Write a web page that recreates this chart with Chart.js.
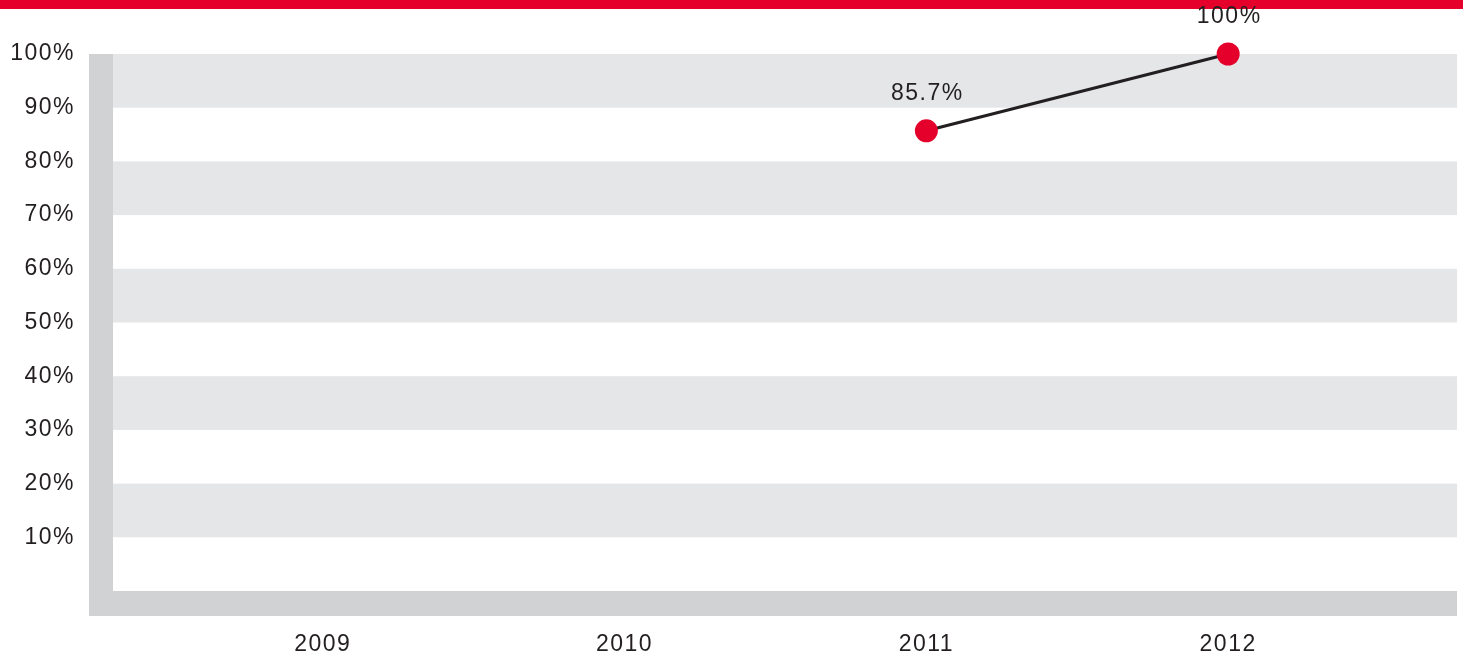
<!DOCTYPE html>
<html>
<head>
<meta charset="utf-8">
<script src="https://cdn.jsdelivr.net/npm/chart.js@4"></script>
<style>
  html, body { margin: 0; padding: 0; background: #fff; }
  #wrap { width: 1463px; height: 659px; }
</style>
</head>
<body>
<div id="wrap"><canvas id="chart" width="1463" height="659"></canvas></div>
<script>
const years = [2009, 2010, 2011, 2012];
const shares = [null, null, 85.7, 100];
const yTicks = [0, 10, 20, 30, 40, 50, 60, 70, 80, 90, 100];

const RED = "#e4002b";
const INK = "#231f20";
const STRIPE = "#e5e6e8";
const AXIS = "#d1d2d4";
const FONT = "'Liberation Sans', Arial, sans-serif";

const backdrop = {
  id: "backdrop",
  beforeDraw(chart) {
    const { ctx, chartArea: a, scales: { y } } = chart;
    const right = chart.width - 6;
    ctx.letterSpacing = "1.5px";
    ctx.save();
    ctx.fillStyle = RED;
    ctx.fillRect(0, 0, chart.width, 9);
    ctx.fillStyle = STRIPE;
    for (let v = 10; v < 100; v += 20) {
      const top = y.getPixelForValue(v + 10);
      const bot = y.getPixelForValue(v);
      ctx.fillRect(a.left, top, right - a.left, bot - top);
    }
    ctx.fillStyle = AXIS;
    ctx.fillRect(a.left - 24, a.top, 24, a.bottom - a.top + 25);
    ctx.fillRect(a.left - 24, a.bottom, right - a.left + 24, 25);
    ctx.restore();
  },
  afterDatasetsDraw(chart) {
    const { ctx } = chart;
    const meta = chart.getDatasetMeta(0);
    ctx.save();
    ctx.fillStyle = INK;
    ctx.font = "23px " + FONT;
    ctx.textAlign = "center";
    ctx.textBaseline = "middle";
    meta.data.forEach((pt, i) => {
      const v = shares[i];
      if (v == null) return;
      ctx.fillText(v + "%", pt.x + 1, pt.y - 37);
    });
    ctx.restore();
  }
};

new Chart(document.getElementById("chart"), {
  type: "line",
  data: {
    datasets: [
      {
        data: years.map((yr, i) => ({ x: yr, y: shares[i] })),
        borderColor: INK,
        borderWidth: 3,
        pointRadius: 11.5,
        pointHoverRadius: 11.5,
        pointBackgroundColor: RED,
        pointBorderWidth: 0,
        clip: false,
        spanGaps: false
      }
    ]
  },
  options: {
    responsive: false,
    animation: false,
    layout: { padding: { top: 54, right: 1, left: 0, bottom: 0 } },
    plugins: { legend: { display: false }, tooltip: { enabled: false } },
    scales: {
      x: {
        type: "linear",
        min: 2008.305,
        max: 2012.74,
        afterBuildTicks: s => { s.ticks = years.map(v => ({ value: v })); },
        afterFit: s => { s.height = 68; },
        grid: { display: false, drawTicks: false },
        border: { display: false },
        ticks: {
          padding: 40,
          color: INK,
          font: { family: FONT, size: 23 },
          callback: v => String(v),
          maxRotation: 0
        }
      },
      y: {
        min: 0,
        max: 100,
        afterBuildTicks: s => { s.ticks = yTicks.map(v => ({ value: v })); },
        afterFit: s => { s.width = 113; },
        grid: { display: false, drawTicks: false },
        border: { display: false },
        ticks: {
          padding: 38,
          color: INK,
          font: { family: FONT, size: 23 },
          callback: v => (v === 0 ? "" : v + "%")
        }
      }
    }
  },
  plugins: [backdrop]
});
</script>
</body>
</html>
